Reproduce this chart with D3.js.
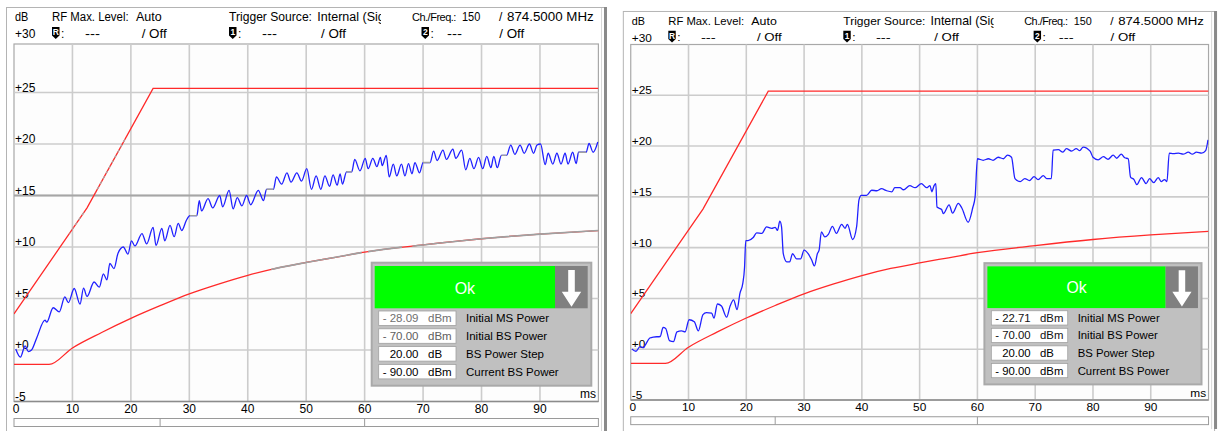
<!DOCTYPE html>
<html>
<head>
<meta charset="utf-8">
<script src="https://cdn.jsdelivr.net/npm/d3@7"></script>
<style>
  html, body { margin: 0; padding: 0; background: #ffffff; }
  svg { display: block; font-family: "Liberation Sans", Arial, sans-serif; }
</style>
</head>
<body>
<svg id="chart" width="1221" height="431"></svg>
<script>
// ---- axis ticks ----
const msTicks = [0, 10, 20, 30, 40, 50, 60, 70, 80, 90];
const dbTicks = [-5, 0, 5, 10, 15, 20, 25, 30];
const dbTickLabels = ["-5", "+0", "+5", "+10", "+15", "+20", "+25", "+30"];
const scrollMarks = [25, 60];

// ---- power limit lines (ms, dB) ----
const upperLimit = [[0, 3.5], [12.5, 13.8], [23.8, 25.4], [100, 25.4]];
const lowerLimit = [[0, -1.4], [6, -1.4], [10, 0.2], [15, 1.7], [20, 3.07], [25, 4.3], [30, 5.45],
  [35, 6.4], [40, 7.25], [45, 7.95], [50, 8.5], [55, 9.0], [60, 9.5], [70, 10.2], [80, 10.8],
  [90, 11.25], [100, 11.6]];

// ---- measured MS power, first run (ms, dB) ----
const traceA = [[0.3, 0.1], [1.1, -0.7], [1.9, 0.4], [2.45, -0.15], [3.0, 0.0], [3.9, 1.2], [5.3, 2.9],
  [5.6, 2.7], [6.7, 4.1], [7.75, 3.7], [8.7, 5.15], [9.3, 4.6], [10.3, 5.97], [11.3, 4.45], [11.9, 6.0],
  [12.5, 5.2], [13.7, 6.6], [14.6, 6.1], [15.3, 7.4], [15.9, 6.8], [16.4, 8.4], [17.1, 7.9], [17.8, 9.4],
  [18.7, 10.0], [19.5, 9.3], [20.1, 10.6], [20.7, 10.1], [21.9, 11.3], [22.7, 10.3], [23.8, 11.9],
  [24.3, 10.15], [25.3, 11.8], [25.8, 10.6], [26.7, 12.1], [27.4, 11.0], [28.1, 12.3], [28.7, 11.6],
  [29.5, 12.6], [30.1, 13.05], [31.3, 13.05], [31.7, 14.5], [32.1, 13.5], [33.2, 14.7], [34.0, 13.8],
  [35.2, 15.0], [35.7, 13.9], [36.8, 15.5], [37.5, 13.7], [38.2, 14.8], [39.0, 14.0], [39.8, 15.0],
  [40.5, 14.1], [41.8, 15.5], [42.7, 14.5], [43.2, 15.6], [44.4, 15.6], [44.9, 16.8], [45.8, 16.1],
  [46.7, 17.2], [47.4, 16.3], [48.4, 17.2], [49.2, 16.4], [50.1, 17.6], [50.9, 15.6], [51.7, 16.9],
  [52.5, 15.6], [53.2, 16.9], [54.0, 15.9], [54.6, 17.0], [55.3, 16.0], [55.8, 17.1], [56.2, 16.1],
  [56.9, 17.3], [57.8, 17.3], [58.3, 18.5], [59.2, 17.4], [60.1, 18.6], [60.6, 17.6], [61.4, 18.6],
  [62.1, 17.8], [62.7, 18.7], [63.0, 17.9], [63.7, 18.9], [64.2, 16.8], [64.9, 18.05], [65.5, 16.9],
  [66.3, 18.05], [66.9, 16.9], [67.5, 18.1], [68.1, 17.1], [68.6, 18.2], [69.4, 17.2], [70.0, 18.2],
  [71.2, 18.2], [71.8, 19.3], [72.4, 18.4], [73.4, 19.4], [74.0, 18.5], [75.1, 19.5], [75.6, 18.6],
  [76.6, 19.4], [77.3, 17.5], [78.0, 18.6], [78.7, 17.6], [79.5, 18.7], [80.2, 17.6], [80.9, 18.8],
  [81.6, 17.7], [82.1, 18.8], [82.7, 17.7], [83.4, 18.9], [84.3, 18.9], [85.0, 19.9], [85.7, 19.0],
  [86.6, 19.9], [87.3, 19.1], [88.2, 20.0], [88.9, 19.1], [89.5, 19.9], [90.1, 20.0], [90.9, 18.0],
  [91.4, 19.1], [92.2, 18.05], [92.9, 19.1], [93.6, 18.05], [94.3, 19.1], [94.8, 18.05], [95.6, 19.2],
  [96.2, 18.1], [96.6, 19.2], [97.9, 19.2], [98.4, 20.05], [99.1, 19.2], [99.9, 20.2]];

// ---- measured MS power, second run (ms, dB) ----
const traceB = [[0.2, 0.03], [0.9, -0.2], [1.6, 0.25], [2.2, 0.15], [2.5, 0.4], [3.3, 1.1], [3.9, 1.2],
  [5.1, 1.25], [5.6, 2.15], [6.05, 2.05], [6.7, 0.85], [7.4, 0.75], [8.0, 1.7], [8.8, 1.8], [9.4, 1.7],
  [10.1, 2.9], [11.0, 2.7], [11.7, 1.8], [12.5, 3.4], [13.1, 3.6], [14.0, 3.55], [14.4, 3.05], [15.0, 4.45],
  [15.7, 4.25], [16.6, 3.15], [17.2, 4.25], [17.8, 4.85], [18.4, 3.9], [18.9, 5.5], [19.4, 6.5], [19.7, 8.1],
  [19.9, 10.7], [20.3, 10.7], [21.2, 11.0], [21.8, 11.45], [22.7, 11.4], [23.5, 12.05], [24.4, 11.9],
  [25.0, 12.0], [25.4, 11.7], [25.8, 12.6], [26.1, 12.05], [26.4, 9.4], [27.0, 8.6], [27.5, 8.6],
  [28.0, 9.4], [28.7, 8.9], [29.4, 8.9], [30.0, 9.75], [30.7, 9.4], [31.3, 8.8], [31.8, 8.2], [32.3, 9.4],
  [32.6, 9.75], [33.0, 11.55], [33.6, 11.05], [34.2, 11.3], [34.9, 12.1], [35.6, 11.4], [36.5, 12.3],
  [37.1, 11.9], [37.5, 12.3], [38.4, 10.8], [39.1, 12.1], [39.5, 14.7], [39.9, 15.15], [40.8, 15.15],
  [41.7, 15.65], [42.6, 15.6], [43.4, 15.8], [44.3, 15.6], [45.2, 15.5], [45.7, 15.9], [46.6, 15.9],
  [47.2, 15.7], [48.3, 16.1], [49.2, 15.9], [50.3, 16.3], [51.2, 15.9], [51.8, 16.1], [52.1, 15.5],
  [52.5, 16.1], [52.8, 16.3], [53.0, 14.0], [53.8, 13.75], [54.1, 13.35], [55.1, 14.2], [55.7, 13.4],
  [56.7, 14.35], [57.3, 13.9], [58.4, 12.5], [59.2, 13.95], [59.6, 15.0], [60.0, 18.75], [61.0, 18.6],
  [61.9, 18.75], [62.7, 18.6], [63.6, 18.9], [64.5, 18.75], [65.2, 19.1], [65.9, 18.9], [66.5, 16.8],
  [67.4, 16.5], [68.2, 16.8], [69.0, 16.6], [69.8, 17.0], [70.5, 16.7], [71.4, 17.1], [72.0, 16.8],
  [72.8, 16.8], [73.1, 19.6], [74.0, 19.65], [74.8, 19.4], [75.4, 19.75], [76.3, 19.5], [77.1, 19.75],
  [77.7, 19.55], [78.3, 19.9], [79.5, 19.5], [80.0, 18.9], [80.9, 18.65], [81.8, 18.95], [82.6, 18.7],
  [83.5, 19.1], [84.1, 18.8], [84.9, 19.2], [85.5, 18.85], [86.1, 18.75], [86.5, 16.95], [87.1, 16.7],
  [87.6, 16.2], [88.4, 16.9], [89.2, 16.3], [89.8, 16.8], [90.5, 16.4], [91.3, 16.9], [91.8, 16.5],
  [92.4, 16.7], [92.8, 16.5], [93.2, 19.3], [93.9, 19.25], [94.8, 19.3], [95.6, 19.2], [96.5, 19.4],
  [97.2, 19.2], [97.9, 19.4], [98.8, 19.3], [99.5, 19.55], [99.9, 20.6]];

// time spans (ms) where the first run's curves are overdrawn by the grey reference trace
const greyTraceSpansA = [[30.1, 31.3], [43.2, 44.4], [56.9, 57.8], [70.0, 71.2], [83.4, 84.3], [96.6, 97.9]];
const greyLowerSpansA = [[44, 59.5], [60.6, 66.4], [68.2, 100]];
const greyUpperSpansA = [[9.5, 12], [14, 19]];
const greyLevelA = 15;

// ---- result readouts ----
const readoutLabels = ["Initial MS Power", "Initial BS Power", "BS Power Step", "Current BS Power"];
const readoutUnits = ["dBm", "dBm", "dB", "dBm"];
const readoutA = ["- 28.09", "- 70.00", "20.00", "- 90.00"];
const readoutB = ["- 22.71", "- 70.00", "20.00", "- 90.00"];

// ---- header fields (x position, text, rendered width) ----
const headerRow1 = [
  { x: 15, t: "dB", w: 13.3 }, { x: 52, t: "RF Max. Level:", w: 76.6 }, { x: 136, t: "Auto", w: 25.7 },
  { x: 229, t: "Trigger Source:", w: 83 }, { x: 317.3, t: "Internal (Sig", clip: 381, fs: 12.5 },
  { x: 412, t: "Ch./Freq.:", fs: 11, ls: -0.5 }, { x: 462, t: "150", w: 18.3 }, { x: 499, t: "/" },
  { x: 507, t: "874.5000 MHz", w: 86.7 }
];
const headerRow2 = [
  { x: 85, t: "---", w: 15 }, { x: 141.7, t: "/ Off", w: 25 },
  { x: 262, t: "---", w: 15 }, { x: 321, t: "/ Off", w: 25 },
  { x: 447, t: "---", w: 15 }, { x: 499.3, t: "/ Off", w: 25 }
];
const markers = [{ x: 52, c: "R" }, { x: 229, c: "1" }, { x: 421.5, c: "2" }];

const panels = [
  { id: "a", trace: traceA, readout: readoutA, readColors: ["#707070", "#606060", "#000", "#000"],
    transform: "translate(0,0)", frameTop: 44, grey: true },
  { id: "b", trace: traceB, readout: readoutB, readColors: ["#111", "#111", "#000", "#000"],
    transform: "translate(616.9,4.07) scale(0.9887,0.9861)", frameTop: 41, grey: false }
];

const svg = d3.select("#chart");
const FONT = 12;

// plot box in panel coordinates
const PX0 = 14, PX1 = 598.4, PYT = 41, PYB = 401.5;
const x = d3.scaleLinear().domain([0, 100]).range([PX0, PX1]);
const y = d3.scaleLinear().domain([-5, 30]).range([PYB, PYT]);

const line = d3.line().x(d => x(d[0])).y(d => y(d[1]));
const smooth = d3.line().x(d => x(d[0])).y(d => y(d[1])).curve(d3.curveMonotoneX);

function fitText(sel, h) {
  if (h.w) sel.attr("textLength", h.w).attr("lengthAdjust", "spacingAndGlyphs");
  if (h.fs) sel.attr("font-size", h.fs);
  if (h.ls) sel.attr("letter-spacing", h.ls);
}

panels.forEach(p => {
  const g = svg.append("g").attr("transform", p.transform);
  const defs = g.append("defs");
  const top = p.frameTop;

  // panel frame
  g.append("rect").attr("x", 6.5).attr("y", 7.5).attr("width", 598).attr("height", 430)
    .attr("fill", "#ffffff").attr("stroke", "#b4b4b4").attr("stroke-width", 1);
  g.append("line").attr("x1", 605.5).attr("x2", 605.5).attr("y1", 7).attr("y2", 431)
    .attr("stroke", "#8a8a8a").attr("stroke-width", 3);
  g.append("line").attr("x1", 601.5).attr("x2", 601.5).attr("y1", 8).attr("y2", 431)
    .attr("stroke", "#d8d8d8").attr("stroke-width", 1);

  // header text
  const hdr = g.append("g").attr("font-size", FONT).attr("fill", "#000");
  headerRow1.forEach((h, i) => {
    const t = hdr.append("text").attr("x", h.x).attr("y", 21).text(h.t);
    fitText(t, h);
    if (h.clip) {
      const cid = `clip-hdr-${p.id}-${i}`;
      defs.append("clipPath").attr("id", cid).append("rect")
        .attr("x", h.x - 2).attr("y", 5).attr("width", h.clip - h.x + 2).attr("height", 22);
      t.attr("clip-path", `url(#${cid})`);
    }
  });
  headerRow2.forEach(h => fitText(hdr.append("text").attr("x", h.x).attr("y", 37.5).text(h.t), h));
  markers.forEach(m => {
    const mg = g.append("g").attr("transform", `translate(${m.x},27)`);
    mg.append("path").attr("d", "M0,0 H7.5 V8.5 L3.75,12 L0,8.5 Z").attr("fill", "#000");
    mg.append("text").attr("x", 3.75).attr("y", 8).attr("text-anchor", "middle")
      .attr("font-size", 8.5).attr("font-weight", "bold").attr("fill", "#fff").text(m.c);
    mg.append("text").attr("x", 9).attr("y", 10.5).attr("font-size", FONT).text(":");
  });

  // plot area and grid
  g.append("rect").attr("x", PX0).attr("y", top).attr("width", PX1 - PX0).attr("height", PYB - top)
    .attr("fill", "#fdfdfd").attr("stroke", "#a8a8a8").attr("stroke-width", 1.2);
  g.append("g").selectAll("line").data(msTicks.filter(v => v > 0)).join("line")
    .attr("x1", d => x(d)).attr("x2", d => x(d)).attr("y1", top).attr("y2", PYB)
    .attr("stroke", "#cccccc").attr("stroke-width", 1.6);
  g.append("g").selectAll("line").data(dbTicks.filter(v => v > -5 && v < 30)).join("line")
    .attr("x1", PX0).attr("x2", PX1).attr("y1", d => y(d)).attr("y2", d => y(d))
    .attr("stroke", "#cccccc").attr("stroke-width", 1.6);
  if (p.grey) {
    g.append("line").attr("x1", PX0).attr("x2", PX1).attr("y1", y(greyLevelA)).attr("y2", y(greyLevelA))
      .attr("stroke", "#a6a6a6").attr("stroke-width", 2.2);
  }
  // bottom axis line
  g.append("line").attr("x1", PX0).attr("x2", PX1).attr("y1", PYB).attr("y2", PYB)
    .attr("stroke", "#8c8c8c").attr("stroke-width", 1.5);

  // y tick labels
  g.append("g").attr("font-size", FONT).selectAll("text").data(dbTicks).join("text")
    .attr("x", 15).attr("y", d => d === 30 ? 38 : y(d) - 1)
    .text((d, i) => dbTickLabels[i]);

  // x tick labels
  g.append("g").attr("font-size", FONT).attr("text-anchor", "middle").selectAll("text")
    .data(msTicks).join("text")
    .attr("x", d => x(d) + (d === 0 ? 2 : 0)).attr("y", 413).text(d => d);
  g.append("text").attr("x", 596).attr("y", 398).attr("text-anchor", "end")
    .attr("font-size", FONT).text("ms");

  // scroll bar
  g.append("rect").attr("x", PX0).attr("y", 418.5).attr("width", PX1 - PX0).attr("height", 8)
    .attr("fill", "#ffffff").attr("stroke", "#9a9a9a").attr("stroke-width", 1);
  g.append("g").selectAll("line").data(scrollMarks).join("line")
    .attr("x1", d => x(d)).attr("x2", d => x(d)).attr("y1", 418.5).attr("y2", 426.5)
    .attr("stroke", "#9a9a9a").attr("stroke-width", 1);

  // clip for curves
  const pc = `clip-plot-${p.id}`;
  defs.append("clipPath").attr("id", pc).append("rect")
    .attr("x", PX0).attr("y", top).attr("width", PX1 - PX0).attr("height", PYB - top);
  const curves = g.append("g").attr("clip-path", `url(#${pc})`);

  // limit lines
  curves.append("path").attr("d", line(upperLimit)).attr("fill", "none")
    .attr("stroke", "#ff2a2a").attr("stroke-width", 1.3);
  curves.append("path").attr("d", smooth(lowerLimit)).attr("fill", "none")
    .attr("stroke", "#ff2a2a").attr("stroke-width", 1.3);

  // measured trace
  curves.append("path").attr("d", smooth(p.trace)).attr("fill", "none")
    .attr("stroke", "#2020ff").attr("stroke-width", 1.3);

  if (p.grey) {
    const addSpanClip = (id, spans) => {
      const cp = defs.append("clipPath").attr("id", id);
      spans.forEach(s => cp.append("rect").attr("x", x(s[0])).attr("y", top)
        .attr("width", x(s[1]) - x(s[0])).attr("height", PYB - top));
      return `url(#${id})`;
    };
    curves.append("path").attr("d", smooth(lowerLimit)).attr("fill", "none")
      .attr("stroke", "#a0a0a0").attr("stroke-width", 1.6)
      .attr("clip-path", addSpanClip("grey-low-a", greyLowerSpansA));
    curves.append("path").attr("d", line(upperLimit)).attr("fill", "none")
      .attr("stroke", "#a8a8a8").attr("stroke-width", 1.2).attr("stroke-dasharray", "3,3")
      .attr("clip-path", addSpanClip("grey-up-a", greyUpperSpansA));
    curves.append("path").attr("d", smooth(p.trace)).attr("fill", "none")
      .attr("stroke", "#a0a0a0").attr("stroke-width", 1.4)
      .attr("clip-path", addSpanClip("grey-trace-a", greyTraceSpansA));
  }

  // result box
  const L = g.append("g");
  L.append("rect").attr("x", 370.7).attr("y", 261.7).attr("width", 221.6).attr("height", 125)
    .attr("fill", "#a9a9a9");
  L.append("rect").attr("x", 372.7).attr("y", 263.7).attr("width", 217.6).attr("height", 121)
    .attr("fill", "#c0c0c0");
  L.append("rect").attr("x", 374.7).attr("y", 266).attr("width", 180.3).attr("height", 42.3)
    .attr("fill", "#00ff00");
  L.append("rect").attr("x", 555).attr("y", 266).attr("width", 32.7).attr("height", 42.3)
    .attr("fill", "#808080");
  L.append("path")
    .attr("d", "M568.2,270 H574.8 V291.7 H581.2 L571.5,306.7 L561.8,291.7 H568.2 Z")
    .attr("fill", "#ffffff");
  L.append("text").attr("x", 464.9).attr("y", 293.5).attr("text-anchor", "middle")
    .attr("font-size", 16).attr("fill", "#ffffff").text("Ok");

  const rows = L.append("g").selectAll("g").data(readoutLabels).join("g")
    .attr("transform", (d, i) => `translate(0,${311 + i * 17.8})`);
  rows.append("rect").attr("x", 378.7).attr("y", 0).attr("width", 77.3).attr("height", 14.5)
    .attr("fill", "#ffffff").attr("stroke", "#a0a0a0").attr("stroke-width", 0.8);
  rows.append("text").attr("x", 418.5).attr("y", 11.3).attr("text-anchor", "end")
    .attr("font-size", 11.5).attr("fill", (d, i) => p.readColors[i]).text((d, i) => p.readout[i]);
  rows.append("text").attr("x", 428).attr("y", 11.3)
    .attr("font-size", 11.5).attr("fill", (d, i) => p.readColors[i]).text((d, i) => readoutUnits[i]);
  rows.append("text").attr("x", 466).attr("y", 11.3)
    .attr("font-size", 11.5).attr("fill", "#000").text(d => d);
});
</script>
</body>
</html>
